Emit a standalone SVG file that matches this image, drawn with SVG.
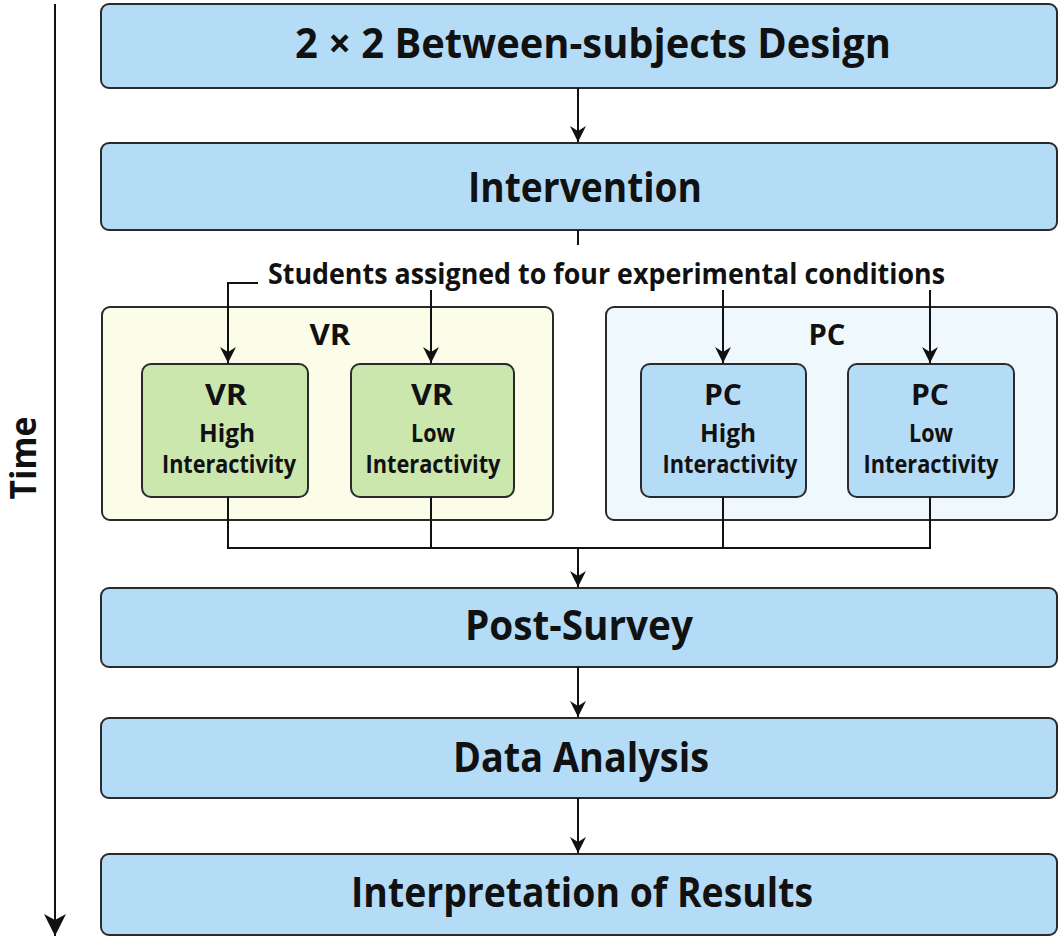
<svg xmlns="http://www.w3.org/2000/svg" width="1063" height="940" viewBox="0 0 1063 940">
<style>
text{font-family:"Open Sans","Noto Sans","Liberation Sans",sans-serif;font-weight:700;fill:#111;}
.big{font-size:42px;}
.mid{font-size:29px;}
.t28{font-size:28px;}
.t24{font-size:25px;}
.main{fill:#b5dcf7;stroke:#2a2a2a;stroke-width:2;}
.green{fill:#cbe7ae;stroke:#2a2a2a;stroke-width:2;}
.pcin{fill:#b5dcf7;stroke:#2a2a2a;stroke-width:2;}
.vrbox{fill:#fbfde9;stroke:#2a2a2a;stroke-width:2;}
.pcbox{fill:#eff8fd;stroke:#2a2a2a;stroke-width:2;}
.ln{fill:none;stroke:#111;stroke-width:2;}
.arr{fill:none;stroke:#111;stroke-width:2;marker-end:url(#ah);}
</style>
<defs>
<marker id="ah" markerUnits="userSpaceOnUse" markerWidth="18" markerHeight="16" refX="16" refY="8" orient="auto">
<path d="M0,0 L16,8 L0,16 L5,8 Z" fill="#111"/>
</marker>
<marker id="ahbig" markerUnits="userSpaceOnUse" markerWidth="24" markerHeight="24" refX="22" refY="11" orient="auto">
<path d="M0,0 L22,11 L0,22 L6,11 Z" fill="#111"/>
</marker>
</defs>
<g id="time-axis">
<line x1="55" y1="4" x2="55" y2="936" stroke="#111" stroke-width="2" marker-end="url(#ahbig)"/>
<text transform="translate(36,458) rotate(-90)" text-anchor="middle" style="font-size:35px" textLength="83" lengthAdjust="spacingAndGlyphs">Time</text>
</g>
<g id="design">
<rect class="main" x="101" y="4" width="956" height="84" rx="8"/>
<text class="big" x="295" y="58" textLength="596" lengthAdjust="spacingAndGlyphs">2 × 2 Between-subjects Design</text>
</g>
<g id="intervention">
<rect class="main" x="101" y="143" width="956" height="87" rx="8"/>
<text class="big" x="468" y="202" textLength="234" lengthAdjust="spacingAndGlyphs">Intervention</text>
</g>
<g id="students-label">
<text class="mid" x="268" y="284" textLength="677" lengthAdjust="spacingAndGlyphs">Students assigned to four experimental conditions</text>
</g>
<g id="vr-group">
<rect class="vrbox" x="102" y="307" width="451" height="213" rx="8"/>
<text class="t28" x="330" y="345" text-anchor="middle" textLength="41" lengthAdjust="spacingAndGlyphs">VR</text>
</g>
<g id="pc-group">
<rect class="pcbox" x="606" y="307" width="451" height="213" rx="8"/>
<text class="t28" x="827" y="345" text-anchor="middle" textLength="37" lengthAdjust="spacingAndGlyphs">PC</text>
</g>
<g id="vr-high">
<rect class="green" x="142" y="364" width="166" height="133" rx="9"/>
<text class="t28" x="226" y="405" text-anchor="middle" textLength="42" lengthAdjust="spacingAndGlyphs">VR</text>
<text class="t24" x="227" y="442" text-anchor="middle" textLength="56" lengthAdjust="spacingAndGlyphs">High</text>
<text class="t24" x="229" y="473" text-anchor="middle" textLength="134" lengthAdjust="spacingAndGlyphs">Interactivity</text>
</g>
<g id="vr-low">
<rect class="green" x="351" y="364" width="163" height="133" rx="9"/>
<text class="t28" x="432" y="405" text-anchor="middle" textLength="42" lengthAdjust="spacingAndGlyphs">VR</text>
<text class="t24" x="433" y="442" text-anchor="middle" textLength="44" lengthAdjust="spacingAndGlyphs">Low</text>
<text class="t24" x="433" y="473" text-anchor="middle" textLength="135" lengthAdjust="spacingAndGlyphs">Interactivity</text>
</g>
<g id="pc-high">
<rect class="pcin" x="641" y="364" width="165" height="133" rx="9"/>
<text class="t28" x="723" y="405" text-anchor="middle" textLength="38" lengthAdjust="spacingAndGlyphs">PC</text>
<text class="t24" x="728" y="442" text-anchor="middle" textLength="56" lengthAdjust="spacingAndGlyphs">High</text>
<text class="t24" x="730" y="473" text-anchor="middle" textLength="135" lengthAdjust="spacingAndGlyphs">Interactivity</text>
</g>
<g id="pc-low">
<rect class="pcin" x="848" y="364" width="166" height="133" rx="9"/>
<text class="t28" x="930" y="405" text-anchor="middle" textLength="38" lengthAdjust="spacingAndGlyphs">PC</text>
<text class="t24" x="931" y="442" text-anchor="middle" textLength="44" lengthAdjust="spacingAndGlyphs">Low</text>
<text class="t24" x="931" y="473" text-anchor="middle" textLength="135" lengthAdjust="spacingAndGlyphs">Interactivity</text>
</g>
<g id="post-survey">
<rect class="main" x="101" y="588" width="956" height="79" rx="8"/>
<text class="big" x="465" y="640" textLength="228" lengthAdjust="spacingAndGlyphs">Post-Survey</text>
</g>
<g id="data-analysis">
<rect class="main" x="101" y="718" width="956" height="80" rx="8"/>
<text class="big" x="453" y="772" textLength="256" lengthAdjust="spacingAndGlyphs">Data Analysis</text>
</g>
<g id="interpretation">
<rect class="main" x="101" y="854" width="956" height="81" rx="8"/>
<text class="big" x="351" y="907" textLength="462" lengthAdjust="spacingAndGlyphs">Interpretation of Results</text>
</g>
<g id="connectors">
<line class="arr" x1="578" y1="88" x2="578" y2="142"/>
<line class="ln" x1="578" y1="230" x2="578" y2="245"/>
<polyline class="arr" points="258,283 228,283 228,363"/>
<line class="arr" x1="431" y1="290" x2="431" y2="363"/>
<line class="arr" x1="723" y1="290" x2="723" y2="363"/>
<line class="arr" x1="930" y1="290" x2="930" y2="363"/>
<polyline class="ln" points="228,497 228,548 930,548 930,497"/>
<line class="ln" x1="431" y1="497" x2="431" y2="548"/>
<line class="ln" x1="723" y1="497" x2="723" y2="548"/>
<line class="arr" x1="578" y1="548" x2="578" y2="587"/>
<line class="arr" x1="578" y1="667" x2="578" y2="717"/>
<line class="arr" x1="578" y1="798" x2="578" y2="853"/>
</g>
</svg>
